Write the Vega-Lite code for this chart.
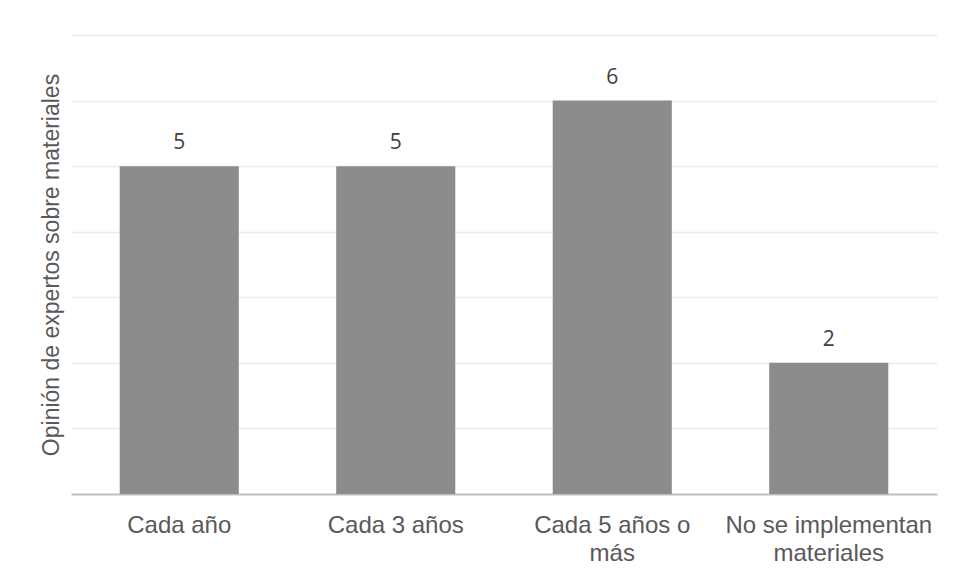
{
  "$schema": "https://vega.github.io/schema/vega-lite/v6.json",
  "width": 866,
  "height": 459,
  "autosize": {"type": "none"},
  "padding": {"left": 71, "top": 35, "right": 26, "bottom": 83},
  "background": "white",
  "config": {"view": {"stroke": null}, "font": "Liberation Sans"},
  "data": {
    "values": [
      {"frecuencia": "Cada año", "expertos": 5},
      {"frecuencia": "Cada 3 años", "expertos": 5},
      {"frecuencia": "Cada 5 años o más", "expertos": 6},
      {"frecuencia": "No se implementan materiales", "expertos": 2}
    ]
  },
  "encoding": {
    "x": {
      "field": "frecuencia",
      "type": "nominal",
      "sort": null,
      "scale": {"paddingInner": 0.45, "paddingOuter": 0.225},
      "axis": {
        "title": null,
        "labelAngle": 0,
        "labelFont": "Liberation Sans",
        "labelFontSize": 24,
        "labelColor": "#595959",
        "labelLineHeight": 28,
        "labelPadding": 19,
        "labelLimit": 0,
        "labelExpr": "datum.label == 'Cada 5 años o más' ? ['Cada 5 años o', 'más'] : datum.label == 'No se implementan materiales' ? ['No se implementan', 'materiales'] : datum.label",
        "ticks": false,
        "tickSize": 0,
        "domainColor": "#bfbfbf",
        "domainWidth": 2,
        "grid": false
      }
    },
    "y": {
      "field": "expertos",
      "type": "quantitative",
      "scale": {"domain": [0, 7], "nice": false},
      "axis": {
        "title": "Opinión de expertos sobre materiales",
        "titleFont": "Liberation Sans",
        "titleFontSize": 23,
        "titleFontWeight": "normal",
        "titleColor": "#595959",
        "titlePadding": 8,
        "labels": false,
        "ticks": false,
        "tickSize": 0,
        "domain": false,
        "grid": true,
        "gridColor": "#ececec",
        "gridWidth": 1.3,
        "values": [1, 2, 3, 4, 5, 6, 7]
      }
    }
  },
  "layer": [
    {"mark": {"type": "bar", "color": "#8c8c8c"}},
    {
      "mark": {
        "type": "text",
        "dy": -17,
        "baseline": "alphabetic",
        "font": "Open Sans",
        "fontSize": 21,
        "color": "#404040"
      },
      "encoding": {"text": {"field": "expertos", "type": "quantitative"}}
    }
  ]
}
